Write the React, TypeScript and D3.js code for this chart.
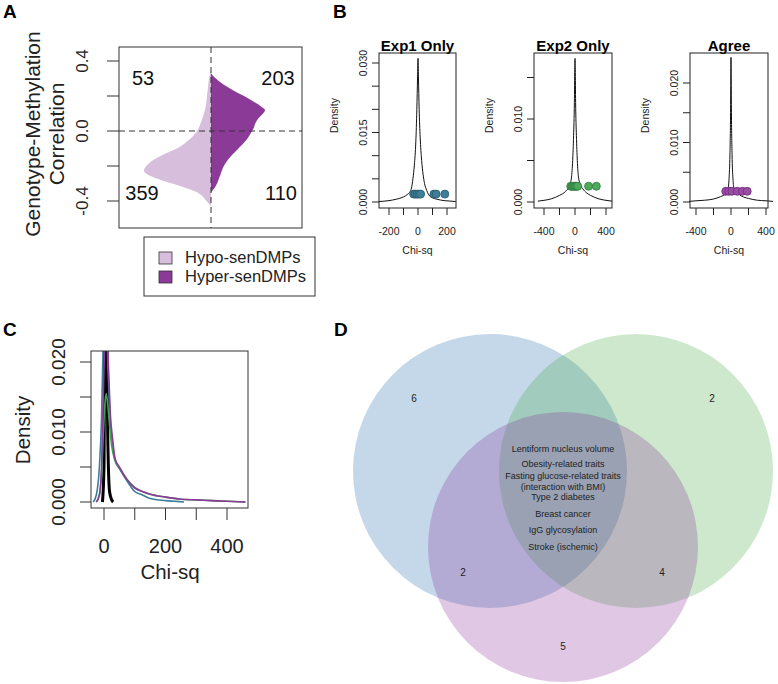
import React from 'react';
import * as d3 from 'd3';

const FONT = "'Liberation Sans', Arial, Helvetica, sans-serif";

// ---------- Panel A data ----------
const hyperY = [0.33, 0.31, 0.28, 0.25, 0.22, 0.2, 0.17, 0.14, 0.12, 0.1, 0.07, 0.04, 0.02, 0.0, -0.03, -0.06, -0.09, -0.12, -0.15, -0.18, -0.21, -0.24, -0.27, -0.3, -0.33, -0.35];
const hyperW = [0, 0.15, 0.45, 0.85, 1.3, 1.65, 2.1, 2.5, 2.7, 2.6, 2.35, 2.2, 2.15, 2.05, 1.9, 1.7, 1.45, 1.2, 0.95, 0.75, 0.6, 0.5, 0.4, 0.3, 0.15, 0];
const hypoY = [0.35, 0.3, 0.25, 0.2, 0.15, 0.1, 0.05, 0.02, 0.0, -0.03, -0.06, -0.09, -0.12, -0.15, -0.18, -0.21, -0.23, -0.25, -0.27, -0.29, -0.31, -0.33, -0.35, -0.37, -0.39, -0.41, -0.43];
const hypoW = [0, 0.1, 0.15, 0.2, 0.25, 0.35, 0.5, 0.6, 0.7, 0.9, 1.2, 1.55, 2.1, 2.65, 3.05, 3.3, 3.35, 3.15, 2.75, 2.25, 1.65, 1.15, 0.7, 0.45, 0.3, 0.15, 0];
const corrTicks = [-0.4, -0.2, 0, 0.2, 0.4];
const corrTickLabels = ['-0.4', '', '0.0', '', '0.4'];
const quadrantCounts = ['53', '203', '359', '110'];
const legendLabels = ['Hypo-senDMPs', 'Hyper-senDMPs'];

// ---------- Panel B data ----------
const bTitles = ['Exp1 Only', 'Exp2 Only', 'Agree'];
const exp1X = [-270, -200, -150, -100, -70, -55, -45, -35, -25, -15, -8, -3, 0, 3, 8, 15, 25, 35, 45, 60, 80, 100, 130, 180, 220, 260];
const exp1D = [0.0001, 0.0003, 0.0006, 0.0011, 0.0017, 0.0022, 0.003, 0.005, 0.008, 0.013, 0.02, 0.027, 0.031, 0.027, 0.02, 0.014, 0.009, 0.006, 0.004, 0.0025, 0.0013, 0.0009, 0.0006, 0.0003, 0.0002, 0.0001];
const exp1Dots = [-30, -18, -6, 6, 18, 110, 125, 185];
const exp2X = [-480, -400, -300, -200, -120, -70, -45, -30, -18, -8, -3, 0, 3, 8, 18, 30, 45, 70, 100, 150, 200, 300, 400, 480];
const exp2D = [0.0001, 0.0002, 0.0004, 0.0008, 0.0013, 0.002, 0.003, 0.005, 0.008, 0.012, 0.016, 0.0173, 0.016, 0.012, 0.008, 0.005, 0.003, 0.0021, 0.0016, 0.0011, 0.0008, 0.0004, 0.0002, 0.0001];
const exp2Dots = [-55, -40, -25, -10, 5, 20, 35, 175, 275];
const agreeX = [-480, -400, -300, -200, -120, -60, -35, -22, -12, -5, -2, 0, 2, 5, 12, 22, 35, 60, 90, 120, 200, 300, 400, 480];
const agreeD = [0.0001, 0.0002, 0.0003, 0.0005, 0.0009, 0.0014, 0.002, 0.004, 0.008, 0.015, 0.021, 0.0243, 0.021, 0.015, 0.008, 0.004, 0.0022, 0.0016, 0.0013, 0.001, 0.0006, 0.0003, 0.0002, 0.0001];
const agreeDots = [-60, -25, 10, 70, 130, 185];
const dotLevels = [0.0017, 0.0019, 0.0018];
const exp1XTicks = [-200, -100, 0, 100, 200];
const exp1XLabels = ['-200', '', '0', '', '200'];
const wideXTicks = [-400, -200, 0, 200, 400];
const wideXLabels = ['-400', '', '0', '', '400'];
const exp1YTicks = [0, 0.005, 0.01, 0.015, 0.02, 0.025, 0.03];
const exp1YLabels = ['0.000', '', '', '0.015', '', '', '0.030'];
const exp2YTicks = [0, 0.005, 0.01, 0.015];
const exp2YLabels = ['0.000', '', '0.010', ''];
const agreeYTicks = [0, 0.005, 0.01, 0.015, 0.02];
const agreeYLabels = ['0.000', '', '0.010', '', '0.020'];

// ---------- Panel C data ----------
const cTealX = [-35, -25, -15, -8, -3, 2, 8, 14, 20, 28, 36, 50, 75, 100, 125, 150, 200, 230, 260];
const cTealD = [0, 0.001, 0.005, 0.012, 0.022, 0.026, 0.025, 0.018, 0.012, 0.008, 0.006, 0.0048, 0.003, 0.0015, 0.001, 0.0005, 0.0002, 0.0001, 0];
const cGreenX = [-25, -15, -8, -2, 3, 7, 12, 18, 25, 35, 50, 75, 100, 125, 150, 200, 250, 300, 350, 400, 460];
const cGreenD = [0, 0.001, 0.004, 0.01, 0.014, 0.0155, 0.014, 0.011, 0.008, 0.006, 0.0048, 0.0032, 0.0021, 0.0015, 0.0011, 0.0007, 0.0004, 0.0003, 0.0002, 0.0001, 0];
const cPurpleX = [-25, -15, -8, -3, 2, 8, 14, 20, 28, 36, 50, 75, 100, 125, 150, 200, 250, 300, 350, 400, 460];
const cPurpleD = [0, 0.001, 0.005, 0.014, 0.022, 0.025, 0.02, 0.013, 0.009, 0.0062, 0.005, 0.0032, 0.002, 0.0015, 0.0011, 0.0007, 0.0004, 0.0003, 0.0002, 0.0001, 0];
const cBlackX = [-5, 0, 3, 8, 12, 18, 25, 30];
const cBlackD = [0, 0.005, 0.03, 0.03, 0.01, 0.0015, 0.0003, 0];
const cXTicks = [0, 100, 200, 300, 400];
const cXLabels = ['0', '', '200', '', '400'];
const cYTicks = [0, 0.005, 0.01, 0.015, 0.02];
const cYLabels = ['0.000', '', '0.010', '', '0.020'];

// ---------- Panel D data ----------
const vennCounts = ['6', '2', '2', '4', '5'];
const sharedTraits = [
  'Lentiform nucleus volume',
  'Obesity-related traits',
  'Fasting glucose-related traits',
  '(interaction with BMI)',
  'Type 2 diabetes',
  'Breast cancer',
  'IgG glycosylation',
  'Stroke (ischemic)',
];

const HYPO = '#D8BEDD';
const HYPER = '#8C3A97';

type BConf = {
  title: string; left: number; right: number; top: number; bottom: number;
  xd: [number, number]; xr: [number, number]; yd: [number, number]; yr: [number, number];
  xs: number[]; ds: number[]; dots: number[]; dotY: number;
  xt: number[]; xl: string[]; yt: number[]; yl: string[];
  fill: string; stroke: string;
};

function BPanel({ c }: { c: BConf }) {
  const x = d3.scaleLinear().domain(c.xd).range(c.xr);
  const y = d3.scaleLinear().domain(c.yd).range(c.yr);
  const pts = c.xs.map((v, i) => [v, c.ds[i]] as [number, number]);
  const line = d3.line<[number, number]>().x(d => x(d[0])).y(d => y(d[1])).curve(d3.curveMonotoneX);
  const cx = (c.left + c.right) / 2;
  const cy = (c.top + c.bottom) / 2;
  return (
    <g fontFamily={FONT}>
      <text x={cx} y={51} textAnchor="middle" fontWeight="bold" fontSize={15}>{c.title}</text>
      <path d={line(pts) || ''} fill="none" stroke="#111" strokeWidth={1} />
      {c.dots.map((v, i) => (
        <circle key={i} cx={x(v)} cy={y(c.dotY)} r={4} fill={c.fill} stroke={c.stroke} strokeWidth={0.8} />
      ))}
      <rect x={c.left} y={c.top} width={c.right - c.left} height={c.bottom - c.top} fill="none" stroke="#222" strokeWidth={1} />
      {c.xt.map((t, i) => (
        <g key={i}>
          <line x1={x(t)} x2={x(t)} y1={c.bottom} y2={c.bottom + 7} stroke="#222" />
          {c.xl[i] && <text x={x(t)} y={235} textAnchor="middle" fontSize={10.5} fill="#222">{c.xl[i]}</text>}
        </g>
      ))}
      {c.yt.map((t, i) => (
        <g key={i}>
          <line x1={c.left - 7} x2={c.left} y1={y(t)} y2={y(t)} stroke="#222" />
          {c.yl[i] && (
            <text transform={`translate(${c.left - 12},${y(t)}) rotate(-90)`} textAnchor="middle" fontSize={10.5} fill="#222">{c.yl[i]}</text>
          )}
        </g>
      ))}
      <text transform={`translate(${c.left - 41},${cy - 15}) rotate(-90)`} textAnchor="middle" fontSize={10.5} fill="#222">Density</text>
      <text x={cx} y={254} textAnchor="middle" fontSize={10.5} fill="#222">Chi-sq</text>
    </g>
  );
}

export default function App() {
  // ----- Panel A -----
  const yA = d3.scaleLinear().domain([-0.4, 0.4]).range([201, 61]);
  const xA = d3.scaleLinear().domain([-4.6, 4.55]).range([119, 302]);
  const hyperPts = hyperY.map((v, i) => [v, hyperW[i]] as [number, number]);
  const hypoPts = hypoY.map((v, i) => [v, hypoW[i]] as [number, number]);
  const areaHyper = d3.area<[number, number]>().y(d => yA(d[0])).x0(xA(0)).x1(d => xA(d[1])).curve(d3.curveCatmullRom);
  const areaHypo = d3.area<[number, number]>().y(d => yA(d[0])).x0(xA(0)).x1(d => xA(-d[1])).curve(d3.curveCatmullRom);
  const aBox = { l: 119, r: 302, t: 47, b: 228 };
  const quadPos = [
    { x: 143, y: 85 }, { x: 278, y: 85 }, { x: 142, y: 200 }, { x: 281, y: 200 },
  ];

  // ----- Panel B -----
  const bConfs: BConf[] = [
    { title: bTitles[0], left: 379, right: 456, top: 53, bottom: 208, xd: [-200, 200], xr: [389, 447], yd: [0, 0.03], yr: [202, 63],
      xs: exp1X, ds: exp1D, dots: exp1Dots, dotY: dotLevels[0], xt: exp1XTicks, xl: exp1XLabels, yt: exp1YTicks, yl: exp1YLabels, fill: '#3F7E99', stroke: '#2A5B70' },
    { title: bTitles[1], left: 534, right: 612, top: 53, bottom: 208, xd: [-400, 400], xr: [544, 606], yd: [0, 0.01], yr: [202, 119],
      xs: exp2X, ds: exp2D, dots: exp2Dots, dotY: dotLevels[1], xt: wideXTicks, xl: wideXLabels, yt: exp2YTicks, yl: exp2YLabels, fill: '#4DAA5C', stroke: '#2E7A3C' },
    { title: bTitles[2], left: 690, right: 768, top: 53, bottom: 208, xd: [-400, 400], xr: [696, 766], yd: [0, 0.02], yr: [202, 83],
      xs: agreeX, ds: agreeD, dots: agreeDots, dotY: dotLevels[2], xt: wideXTicks, xl: wideXLabels, yt: agreeYTicks, yl: agreeYLabels, fill: '#9B4DA6', stroke: '#6A2A75' },
  ];

  // ----- Panel C -----
  const cBox = { l: 91, r: 248, t: 351, b: 508 };
  const xC = d3.scaleLinear().domain([0, 400]).range([104, 227]);
  const yC = d3.scaleLinear().domain([0, 0.02]).range([502, 362]);
  const lineC = d3.line<[number, number]>().x(d => xC(d[0])).y(d => yC(d[1])).curve(d3.curveMonotoneX);
  const zip = (a: number[], b: number[]) => a.map((v, i) => [v, b[i]] as [number, number]);
  const cSeries = [
    { pts: zip(cBlackX, cBlackD), color: '#000', w: 3 },
    { pts: zip(cTealX, cTealD), color: '#3B7F9E', w: 1.6 },
    { pts: zip(cGreenX, cGreenD), color: '#3EA152', w: 1.6 },
    { pts: zip(cPurpleX, cPurpleD), color: '#8E3A98', w: 1.6 },
  ];

  // ----- Panel D -----
  const circles = [
    { cx: 490, cy: 471, r: 137, fill: '#1363AB' },
    { cx: 636, cy: 471, r: 137, fill: '#37A333' },
    { cx: 563, cy: 547, r: 135, fill: '#832393' },
  ];
  const countPos = [
    { x: 414, y: 402 }, { x: 712, y: 402 }, { x: 463, y: 576 }, { x: 662, y: 576 }, { x: 563, y: 650 },
  ];
  const traitY = [452, 467, 479, 490, 500, 517, 533, 550];

  return (
    <svg width={778} height={684} style={{ position: 'absolute', left: 0, top: 0, background: '#fff' }} fontFamily={FONT}>
      <rect x={0} y={0} width={778} height={684} fill="#fff" />
      {/* Panel letters */}
      <text x={3} y={18} fontSize={19} fontWeight="bold">A</text>
      <text x={333} y={18} fontSize={19} fontWeight="bold">B</text>
      <text x={3} y={336} fontSize={19} fontWeight="bold">C</text>
      <text x={334} y={336} fontSize={19} fontWeight="bold">D</text>

      {/* Panel A */}
      <path d={areaHypo(hypoPts) || ''} fill={HYPO} />
      <path d={areaHyper(hyperPts) || ''} fill={HYPER} />
      <line x1={xA(0)} x2={xA(0)} y1={aBox.t} y2={aBox.b} stroke="#333" strokeDasharray="6,4" />
      <line x1={aBox.l} x2={aBox.r} y1={yA(0)} y2={yA(0)} stroke="#333" strokeDasharray="6,4" />
      <rect x={aBox.l} y={aBox.t} width={aBox.r - aBox.l} height={aBox.b - aBox.t} fill="none" stroke="#333" />
      {corrTicks.map((t, i) => (
        <g key={i}>
          <line x1={107} x2={aBox.l} y1={yA(t)} y2={yA(t)} stroke="#333" />
          {corrTickLabels[i] && (
            <text transform={`translate(88,${yA(t)}) rotate(-90)`} textAnchor="middle" fontSize={17} fill="#222">{corrTickLabels[i]}</text>
          )}
        </g>
      ))}
      <text transform="translate(40,134) rotate(-90)" textAnchor="middle" fontSize={21} fill="#222">Genotype-Methylation</text>
      <text transform="translate(64,134) rotate(-90)" textAnchor="middle" fontSize={21} fill="#222">Correlation</text>
      {quadrantCounts.map((s, i) => (
        <text key={i} x={quadPos[i].x} y={quadPos[i].y} textAnchor="middle" fontSize={20} fill="#111">{s}</text>
      ))}
      <rect x={144} y={237} width={171} height={59} fill="none" stroke="#333" />
      {legendLabels.map((s, i) => (
        <g key={i}>
          <rect x={159} y={252 + i * 19} width={13} height={12} fill={i === 0 ? HYPO : HYPER} stroke="#333" strokeWidth={0.8} />
          <text x={185} y={263 + i * 19} fontSize={16.5} fill="#222">{s}</text>
        </g>
      ))}

      {/* Panel B */}
      {bConfs.map((c, i) => <BPanel key={i} c={c} />)}

      {/* Panel C */}
      <defs>
        <clipPath id="clipC"><rect x={cBox.l} y={cBox.t} width={cBox.r - cBox.l} height={cBox.b - cBox.t} /></clipPath>
      </defs>
      <g clipPath="url(#clipC)">
        {cSeries.map((s, i) => (
          <path key={i} d={lineC(s.pts) || ''} fill="none" stroke={s.color} strokeWidth={s.w} />
        ))}
      </g>
      <rect x={cBox.l} y={cBox.t} width={cBox.r - cBox.l} height={cBox.b - cBox.t} fill="none" stroke="#333" />
      {cXTicks.map((t, i) => (
        <g key={i}>
          <line x1={xC(t)} x2={xC(t)} y1={cBox.b} y2={cBox.b + 12} stroke="#333" />
          {cXLabels[i] && <text x={xC(t)} y={553} textAnchor="middle" fontSize={20} fill="#222">{cXLabels[i]}</text>}
        </g>
      ))}
      {cYTicks.map((t, i) => (
        <g key={i}>
          <line x1={cBox.l - 11} x2={cBox.l} y1={yC(t)} y2={yC(t)} stroke="#333" />
          {cYLabels[i] && (
            <text transform={`translate(65,${yC(t)}) rotate(-90)`} textAnchor="middle" fontSize={19} fill="#222">{cYLabels[i]}</text>
          )}
        </g>
      ))}
      <text transform="translate(30,430) rotate(-90)" textAnchor="middle" fontSize={20.5} fill="#222">Density</text>
      <text x={170} y={579} textAnchor="middle" fontSize={20.5} fill="#222">Chi-sq</text>

      {/* Panel D */}
      {circles.map((c, i) => (
        <circle key={i} cx={c.cx} cy={c.cy} r={c.r} fill={c.fill} fillOpacity={0.25} />
      ))}
      {vennCounts.map((s, i) => (
        <text key={i} x={countPos[i].x} y={countPos[i].y} textAnchor="middle" fontSize={10} fill="#222">{s}</text>
      ))}
      {sharedTraits.map((s, i) => (
        <text key={i} x={563} y={traitY[i]} textAnchor="middle" fontSize={9} fill="#222">{s}</text>
      ))}
    </svg>
  );
}
